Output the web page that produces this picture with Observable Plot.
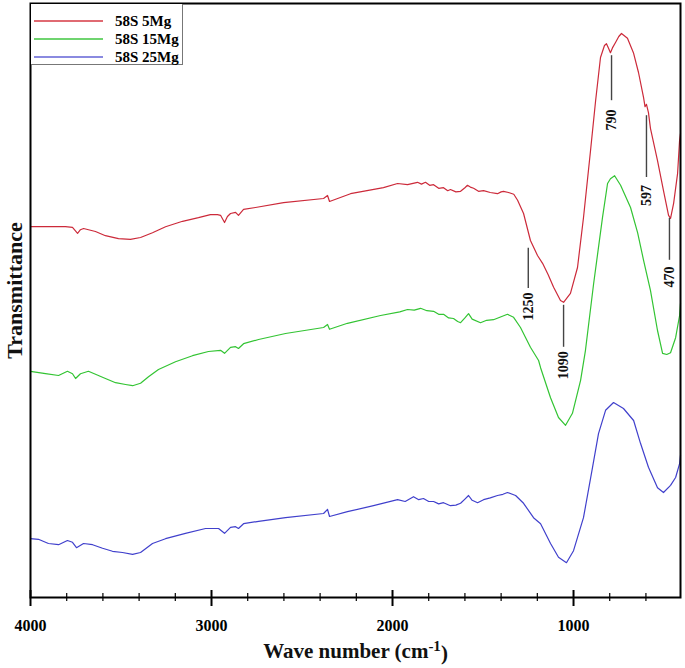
<!DOCTYPE html>
<html>
<head>
<meta charset="utf-8">
<script src="https://cdn.jsdelivr.net/npm/d3@7"></script>
<script src="https://cdn.jsdelivr.net/npm/@observablehq/plot@0.6"></script>
<style>
  html, body { margin: 0; padding: 0; background: #fff; }
  #wrap { position: relative; width: 685px; height: 668px; }
  #legend {
    position: absolute; left: 31px; top: 4px; width: 151px; height: 60px;
    border: 1px solid #777; border-top: none; border-left: none; background: #fff;
    font-family: "Liberation Serif", "DejaVu Serif", serif; font-weight: bold; font-size: 15px;
  }
  .row { position: absolute; left: 3px; height: 18px; display: flex; align-items: center; }
  .swatch { width: 69px; height: 0; border-top: 2px solid; margin-right: 12px; }
</style>
</head>
<body>
<div id="wrap">
  <div id="chart"></div>
  <div id="legend"></div>
</div>
<script>
// ---- Data (wave number in cm^-1, transmittance in arbitrary units) ----
const seriesNames = ["58S 5Mg", "58S 15Mg", "58S 25Mg"];
const seriesColors = ["#cc2a3a", "#33c433", "#4040cc"];
const legendColors = ["#e06a72", "#6fd46f", "#8a8ae0"];

const mg5 = [
  [4000,61.8],[3917,61.8],[3807,61.8],[3768,61.7],[3740,60.7],[3724,61.3],[3707,61.5],[3641,61.0],
  [3586,60.3],[3514,59.8],[3448,59.7],[3392,60.0],[3326,60.8],[3254,61.8],[3160,62.7],[3072,63.3],
  [3006,63.8],[2967,63.8],[2950,63.7],[2928,62.5],[2912,63.5],[2895,64.0],[2867,64.2],[2851,63.7],
  [2823,64.7],[2757,65.0],[2602,65.8],[2381,66.5],[2359,67.0],[2348,66.0],[2232,67.3],[2050,68.3],
  [1972,69.0],[1917,68.8],[1862,69.2],[1840,68.9],[1818,69.2],[1795,68.7],[1773,68.8],[1745,68.2],
  [1718,68.3],[1695,67.8],[1680,68.0],[1650,67.6],[1624,67.7],[1600,68.3],[1586,68.7],[1570,68.4],
  [1552,68.2],[1525,67.7],[1497,67.8],[1460,67.5],[1420,67.3],[1400,67.6],[1387,67.7],[1359,67.5],
  [1330,67.2],[1309,66.2],[1276,64.0],[1238,59.5],[1199,57.0],[1171,55.7],[1140,53.8],[1110,51.7],
  [1072,49.5],[1055,49.2],[1017,50.7],[978,55.0],[945,63.3],[906,74.5],[878,82.8],[851,90.0],
  [829,92.0],[818,92.3],[806,91.5],[796,90.8],[785,91.6],[768,92.5],[750,93.5],[735,94.0],[702,93.2],
  [668,90.7],[641,87.5],[613,83.3],[605,81.8],[597,82.2],[586,80.8],[575,78.2],[536,72.8],[503,67.8],
  [475,63.7],[464,63.2],[447,65.7],[425,70.7],[414,76.2],[409,77.3]
];
const mg15 = [
  [4000,37.7],[3917,37.3],[3845,37.0],[3796,37.7],[3768,37.3],[3751,36.5],[3724,37.3],[3680,37.7],
  [3641,37.2],[3586,36.5],[3530,35.8],[3475,35.5],[3436,35.3],[3392,35.7],[3348,36.8],[3293,38.0],
  [3199,39.3],[3105,40.3],[3017,41.0],[2950,41.2],[2928,40.7],[2895,41.7],[2867,41.8],[2851,41.5],
  [2823,42.3],[2740,43.0],[2591,44.0],[2381,45.0],[2359,45.5],[2348,44.7],[2249,45.7],[2066,47.0],
  [1960,47.6],[1917,48.0],[1880,47.9],[1845,48.2],[1810,47.8],[1773,47.7],[1745,47.2],[1718,47.2],
  [1690,46.6],[1663,46.5],[1640,46.0],[1624,45.8],[1600,46.6],[1580,47.3],[1560,46.4],[1514,45.8],
  [1480,46.2],[1442,46.3],[1400,46.8],[1365,47.2],[1331,46.7],[1293,45.0],[1238,41.7],[1193,39.5],
  [1182,38.3],[1127,33.3],[1083,30.0],[1044,28.7],[1006,30.7],[961,36.2],[934,41.2],[889,52.3],
  [840,63.3],[812,69.0],[796,69.8],[773,70.3],[740,68.7],[685,65.0],[646,60.8],[613,56.2],
  [575,51.2],[536,44.5],[508,40.7],[485,40.5],[464,40.8],[436,43.3],[414,47.0],[409,49.0]
];
const mg25 = [
  [4000,9.8],[3956,9.7],[3901,9.0],[3845,8.8],[3796,9.5],[3768,9.2],[3746,8.3],[3707,9.0],
  [3657,8.8],[3602,8.2],[3547,7.7],[3492,7.5],[3436,7.2],[3392,7.5],[3326,9.0],[3254,9.8],
  [3144,10.7],[3033,11.5],[2961,11.5],[2928,10.7],[2895,11.7],[2867,11.8],[2851,11.5],[2823,12.3],
  [2740,12.7],[2591,13.3],[2381,14.0],[2359,14.7],[2348,13.5],[2249,14.3],[2105,15.3],[1972,16.3],
  [1930,16.0],[1884,16.8],[1855,16.3],[1829,16.5],[1800,16.0],[1773,16.0],[1745,15.6],[1718,15.8],
  [1680,15.3],[1650,15.4],[1624,15.7],[1600,16.4],[1580,17.0],[1560,16.2],[1530,15.8],[1497,16.3],
  [1460,16.6],[1420,17.0],[1390,17.2],[1365,17.5],[1320,17.0],[1276,15.7],[1221,13.3],[1182,12.3],
  [1127,9.0],[1083,6.7],[1039,5.8],[1000,7.8],[945,13.3],[895,21.7],[862,27.3],[823,31.2],
  [779,32.5],[724,31.5],[668,29.5],[630,25.7],[586,21.7],[536,18.3],[503,17.5],[464,18.7],
  [436,20.0],[414,22.3],[409,23.7]
];

// Peak annotations: label, x position drawn, line bottom/top and label centre (transmittance units)
const peakLabels = ["790", "597", "470", "1250", "1090"];
const peakX      = [790, 597, 470, 1250, 1055];
const peakLineLo = [82.8, 70.0, 56.2, 51.5, 41.7];
const peakLineHi = [90.3, 80.3, 63.2, 58.2, 48.7];
const peakTextY  = [79.6, 67.0, 53.4, 48.5, 38.7];

const majorTicks = [4000, 3000, 2000, 1000];
const minorTicks = d3.range(3800, 400, -200).filter(t => !majorTicks.includes(t));
const xDomain = [4000, 409];
const yDomain = [0, 99];

// ---- Build tables ----
const allSeries = [mg5, mg15, mg25];
const rows = allSeries.flatMap((s, i) => s.map(([wn, t]) => ({wn, t, name: seriesNames[i]})));
const peaks = peakLabels.map((label, i) => ({label, x: peakX[i], lo: peakLineLo[i], hi: peakLineHi[i], ty: peakTextY[i]}));

const serif = "'Liberation Serif', 'DejaVu Serif', serif";

const chart = Plot.plot({
  width: 685,
  height: 668,
  marginLeft: 30,
  marginRight: 5,
  marginTop: 3,
  marginBottom: 71,
  style: {fontFamily: serif, background: "#fff"},
  x: {domain: xDomain, axis: null},
  y: {domain: yDomain, axis: null},
  color: {domain: seriesNames, range: seriesColors},
  marks: [
    Plot.line(rows, {x: "wn", y: "t", z: "name", stroke: "name", strokeWidth: 1.2}),
    Plot.ruleX(peaks, {x: "x", y1: "lo", y2: "hi", stroke: "#444", strokeWidth: 1.4}),
    Plot.text(peaks, {x: "x", y: "ty", text: "label", rotate: -90, fontSize: 14, fontWeight: "bold", fill: "#111"}),
    Plot.axisX({ticks: majorTicks, tickSize: 9, tickPadding: 13, fontSize: 16, fontWeight: "bold", tickFormat: d => String(d), strokeWidth: 2, label: null}),
    Plot.axisX({ticks: majorTicks, tickSize: -7, text: null, strokeWidth: 2, label: null}),
    Plot.axisX({ticks: minorTicks, tickSize: 4, text: null, strokeWidth: 1.2, label: null}),
    Plot.axisX({ticks: minorTicks, tickSize: -4, text: null, strokeWidth: 1.2, label: null}),
    Plot.frame({stroke: "#000", strokeWidth: 2}),
    Plot.text(["Wave number (cm-1)"], {frameAnchor: "bottom", dy: 60, fontSize: 21, fontWeight: "bold", fill: "#111", className: "xtitle"}),
    Plot.text(["Transmittance"], {frameAnchor: "left", textAnchor: "middle", dx: -16, dy: -10, rotate: -90, fontSize: 22, fontWeight: "bold", fill: "#111"})
  ]
});
document.getElementById("chart").appendChild(chart);

// superscript for the x-axis title
d3.select(chart).selectAll(".xtitle text").each(function() {
  const t = d3.select(this);
  t.text(null);
  t.append("tspan").text("Wave number (cm");
  t.append("tspan").attr("dy", "-0.45em").attr("font-size", "15").text("-1");
  t.append("tspan").attr("dy", "0.45em").text(")");
});

// ---- Legend ----
const legend = document.getElementById("legend");
seriesNames.forEach((name, i) => {
  const row = document.createElement("div");
  row.className = "row";
  row.style.top = (8 + i * 18) + "px";
  const sw = document.createElement("div");
  sw.className = "swatch";
  sw.style.borderTopColor = legendColors[i];
  const lab = document.createElement("span");
  lab.textContent = name;
  row.appendChild(sw);
  row.appendChild(lab);
  legend.appendChild(row);
});
</script>
</body>
</html>
